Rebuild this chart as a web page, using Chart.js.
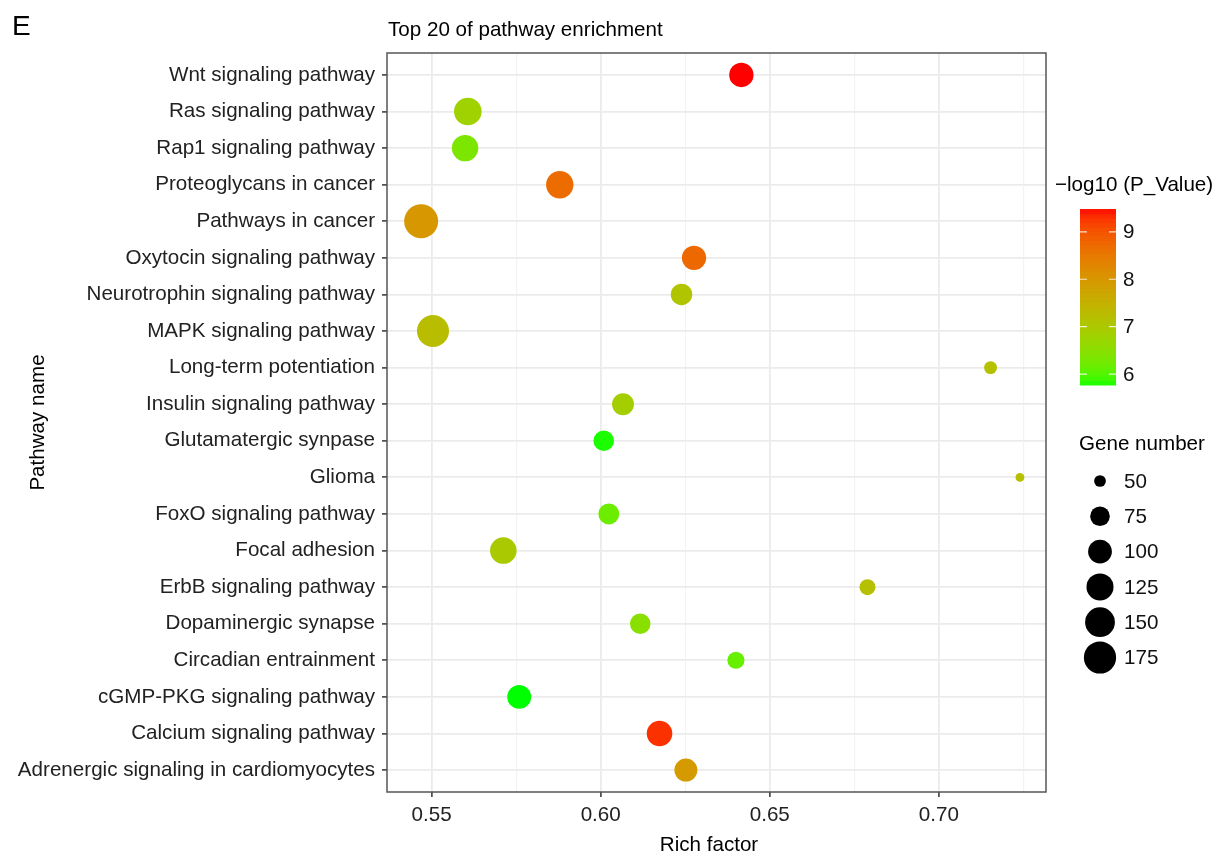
<!DOCTYPE html>
<html>
<head>
<meta charset="utf-8">
<title>Top 20 of pathway enrichment</title>
<script src="https://cdn.jsdelivr.net/npm/chart.js@4.4.1/dist/chart.umd.min.js"></script>
<style>
  html, body { margin: 0; padding: 0; background: #fff; }
  #wrap { width: 1222px; height: 855px; }
</style>
</head>
<body>
<div id="wrap"><canvas id="c" width="1222" height="855"></canvas></div>
<script>
// data
const pathways = [
  "Wnt signaling pathway", "Ras signaling pathway", "Rap1 signaling pathway",
  "Proteoglycans in cancer", "Pathways in cancer", "Oxytocin signaling pathway",
  "Neurotrophin signaling pathway", "MAPK signaling pathway", "Long-term potentiation",
  "Insulin signaling pathway", "Glutamatergic synpase", "Glioma",
  "FoxO signaling pathway", "Focal adhesion", "ErbB signaling pathway",
  "Dopaminergic synapse", "Circadian entrainment", "cGMP-PKG signaling pathway",
  "Calcium signaling pathway", "Adrenergic signaling in cardiomyocytes"
];
const richFactor = [0.6416, 0.5607, 0.5599, 0.5879, 0.5469, 0.6276, 0.6239, 0.5504, 0.7153, 0.6066,
                    0.6009, 0.7240, 0.6024, 0.5712, 0.6789, 0.6117, 0.6400, 0.5759, 0.6174, 0.6252];
const logP = [9.47, 6.8, 6.35, 8.7, 8.0, 8.75, 7.1, 7.25, 7.2, 6.9,
              5.8, 7.2, 6.2, 7.0, 7.2, 6.5, 6.15, 5.77, 9.3, 7.95];
const geneNumber = [104, 130, 120, 128, 195, 104, 85, 173, 52, 88,
                    80, 48, 82, 121, 60, 80, 64, 101, 113, 95];

const xTicks = [0.55, 0.575, 0.60, 0.625, 0.65, 0.675, 0.70, 0.725];
const colorTicks = [6, 7, 8, 9];
const sizeBreaks = [50, 75, 100, 125, 150, 175];

const FONT = '"Liberation Sans", Arial, Helvetica, sans-serif';
const FS = 20.6;

// size scale (area style, like ggplot)
const gMin = Math.min(...geneNumber), gMax = Math.max(...geneNumber);
function radiusOf(n) {
  const t = Math.max(0, (n - gMin) / (gMax - gMin));
  return 4.4 + 12.6 * Math.sqrt(t);
}

// colour scale green -> red, interpolated in Lab
const pMin = Math.min(...logP), pMax = Math.max(...logP);
function lin(c) { c /= 255; return c <= 0.04045 ? c / 12.92 : Math.pow((c + 0.055) / 1.055, 2.4); }
function gam(c) {
  c = c <= 0.0031308 ? 12.92 * c : 1.055 * Math.pow(c, 1 / 2.4) - 0.055;
  return Math.round(Math.max(0, Math.min(1, c)) * 255);
}
function toLab(rgb) {
  const R = lin(rgb[0]), G = lin(rgb[1]), B = lin(rgb[2]);
  const x = (0.4124 * R + 0.3576 * G + 0.1805 * B) / 0.95047;
  const y = 0.2126 * R + 0.7152 * G + 0.0722 * B;
  const z = (0.0193 * R + 0.1192 * G + 0.9505 * B) / 1.08883;
  const f = t => t > 0.008856 ? Math.cbrt(t) : 7.787 * t + 16 / 116;
  const fx = f(x), fy = f(y), fz = f(z);
  return [116 * fy - 16, 500 * (fx - fy), 200 * (fy - fz)];
}
function fromLab(L, a, b) {
  const fy = (L + 16) / 116, fx = fy + a / 500, fz = fy - b / 200;
  const g = t => t * t * t > 0.008856 ? t * t * t : (t - 16 / 116) / 7.787;
  const x = g(fx) * 0.95047, y = g(fy), z = g(fz) * 1.08883;
  const R = 3.2406 * x - 1.5372 * y - 0.4986 * z;
  const G = -0.9689 * x + 1.8758 * y + 0.0415 * z;
  const B = 0.0557 * x - 0.2040 * y + 1.0570 * z;
  return `rgb(${gam(R)}, ${gam(G)}, ${gam(B)})`;
}
const labLow = toLab([0, 255, 0]);
const labHigh = toLab([255, 0, 0]);
function colorOf(v) {
  const t = Math.max(0, Math.min(1, (v - pMin) / (pMax - pMin)));
  return fromLab(labLow[0] + t * (labHigh[0] - labLow[0]),
                 labLow[1] + t * (labHigh[1] - labLow[1]),
                 labLow[2] + t * (labHigh[2] - labLow[2]));
}

const isMajor = v => Math.abs(Math.round(v * 20) - v * 20) < 1e-6;

const extras = {
  id: "extras",
  afterDraw(chart) {
    const ctx = chart.ctx;
    const a = chart.chartArea;
    ctx.save();

    // panel border
    ctx.strokeStyle = "#555";
    ctx.lineWidth = 1.5;
    ctx.strokeRect(a.left, a.top, a.right - a.left, a.bottom - a.top);

    ctx.fillStyle = "#000";
    ctx.textBaseline = "alphabetic";
    ctx.textAlign = "left";
    ctx.font = `28px ${FONT}`;
    ctx.fillText("E", 12, 35);
    ctx.font = `${FS}px ${FONT}`;
    ctx.fillText("Top 20 of pathway enrichment", a.left + 1, 36);

    // axis titles
    ctx.textAlign = "center";
    ctx.textBaseline = "middle";
    ctx.fillText("Rich factor", 709, 845);
    ctx.save();
    ctx.translate(38, (a.top + a.bottom) / 2);
    ctx.rotate(-Math.PI / 2);
    ctx.fillText("Pathway name", 0, 0);
    ctx.restore();

    // colour bar legend
    ctx.textAlign = "left";
    ctx.fillText("\u2212log10 (P_Value)", 1055, 185);
    const bx = 1080, bw = 36, bTop = 209.5, bBot = 385;
    const yOf = v => bBot - (v - pMin) / (pMax - pMin) * (bBot - bTop);
    const nBin = 40;
    for (let i = 0; i < nBin; i++) {
      const v0 = pMin + (pMax - pMin) * i / nBin;
      const v1 = pMin + (pMax - pMin) * (i + 1) / nBin;
      ctx.fillStyle = colorOf((v0 + v1) / 2);
      ctx.fillRect(bx, yOf(v1) - 0.5, bw, yOf(v0) - yOf(v1) + 1);
    }
    ctx.strokeStyle = "rgba(255,255,255,0.8)";
    ctx.lineWidth = 1.2;
    ctx.fillStyle = "#111";
    colorTicks.forEach(v => {
      const y = yOf(v);
      ctx.beginPath();
      ctx.moveTo(bx, y); ctx.lineTo(bx + 7, y);
      ctx.moveTo(bx + bw - 7, y); ctx.lineTo(bx + bw, y);
      ctx.stroke();
      ctx.fillText(String(v), 1123, y + 1);
    });

    // size legend
    ctx.fillStyle = "#000";
    ctx.fillText("Gene number", 1079, 444);
    sizeBreaks.forEach((n, i) => {
      const y = 481 + i * 35.3;
      ctx.beginPath();
      ctx.arc(1100, y, radiusOf(n), 0, Math.PI * 2);
      ctx.fillStyle = "#000";
      ctx.fill();
      ctx.fillStyle = "#111";
      ctx.fillText(String(n), 1124, y + 1);
    });

    ctx.restore();
  }
};

new Chart(document.getElementById("c"), {
  type: "scatter",
  data: {
    datasets: [{
      data: pathways.map((p, i) => ({ x: richFactor[i], y: i })),
      pointRadius: ctx => radiusOf(geneNumber[ctx.dataIndex]),
      pointHoverRadius: ctx => radiusOf(geneNumber[ctx.dataIndex]),
      pointBackgroundColor: ctx => colorOf(logP[ctx.dataIndex]),
      pointBorderWidth: 0,
      pointBorderColor: "rgba(0,0,0,0)"
    }]
  },
  options: {
    responsive: false,
    animation: false,
    devicePixelRatio: 1,
    layout: { padding: { left: 0, top: 53, right: 176, bottom: 0 } },
    plugins: {
      legend: { display: false },
      tooltip: { enabled: false },
      title: { display: false }
    },
    scales: {
      x: {
        type: "linear",
        min: 0.5368,
        max: 0.7317,
        afterBuildTicks: s => { s.ticks = xTicks.map(v => ({ value: v })); },
        afterFit: s => { s.height = 63; },
        border: { display: false },
        grid: {
          color: c => isMajor(c.tick.value) ? "#EBEBEB" : "#F3F3F3",
          lineWidth: c => isMajor(c.tick.value) ? 1.8 : 1.2,
          tickColor: c => isMajor(c.tick.value) ? "#333" : "rgba(0,0,0,0)",
          tickLength: 5,
          tickWidth: 1.5
        },
        ticks: {
          autoSkip: false,
          maxRotation: 0,
          padding: 6,
          color: "#222",
          font: { family: FONT, size: FS },
          callback: v => isMajor(v) ? v.toFixed(2) : ""
        }
      },
      y: {
        type: "linear",
        reverse: true,
        min: -0.6,
        max: pathways.length - 0.4,
        afterBuildTicks: s => { s.ticks = pathways.map((p, i) => ({ value: i })); },
        afterFit: s => { s.width = 387; },
        border: { display: false },
        grid: {
          color: "#EBEBEB",
          lineWidth: 1.8,
          tickColor: "#333",
          tickLength: 5,
          tickWidth: 1.5
        },
        ticks: {
          autoSkip: false,
          padding: 7,
          color: "#222",
          font: { family: FONT, size: FS },
          callback: v => pathways[v]
        }
      }
    }
  },
  plugins: [extras]
});
</script>
</body>
</html>
